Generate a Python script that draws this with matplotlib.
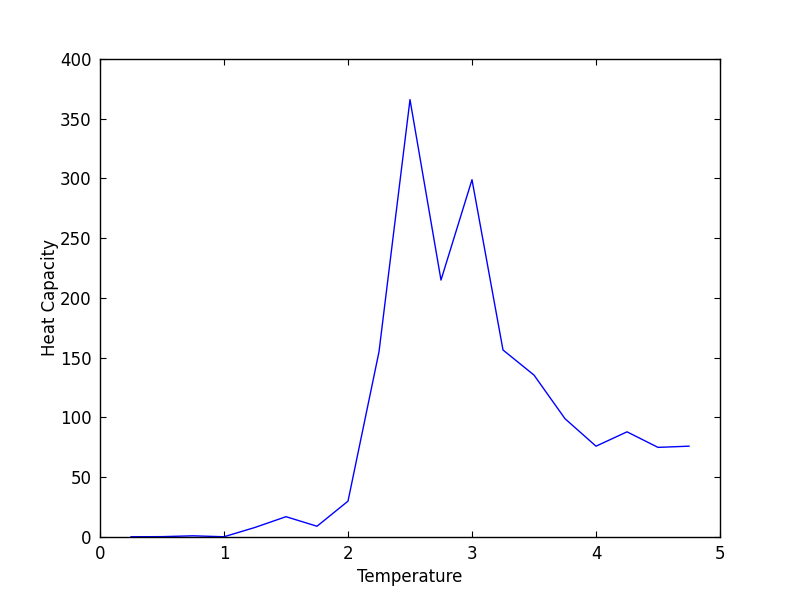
import matplotlib
matplotlib.use("Agg")
import matplotlib.pyplot as plt

temperature = [0.25, 0.5, 0.75, 1.0, 1.25, 1.5, 1.75, 2.0, 2.25, 2.5, 2.75, 3.0,
               3.25, 3.5, 3.75, 4.0, 4.25, 4.5, 4.75]
heat_capacity = [0.2, 0.3, 1.0, 0.2, 8, 17, 9, 30, 155, 366, 215, 299,
                 156.5, 135.5, 99, 76, 88, 75, 76]

plt.rcParams['font.family'] = ['DejaVu Sans']
plt.rcParams['font.size'] = 12

fig = plt.figure(figsize=(8, 5.97), dpi=100)
ax = fig.add_axes([0.125, 0.1005, 0.775, 0.8007])
ax.plot(temperature, heat_capacity, color='blue', linewidth=1.0)
ax.set_xlim(0, 5)
ax.set_ylim(0, 400)
ax.set_xticks([0, 1, 2, 3, 4, 5])
ax.set_yticks(range(0, 401, 50))
ax.tick_params(direction='in', top=True, right=True, length=4, width=0.8, labelsize=12, pad=6)
for s in ax.spines.values():
    s.set_linewidth(1.0)
ax.set_xlabel('Temperature', fontsize=12, labelpad=3)
ax.set_ylabel('Heat Capacity', fontsize=12, labelpad=1)
fig.savefig('out.png', dpi=100)
